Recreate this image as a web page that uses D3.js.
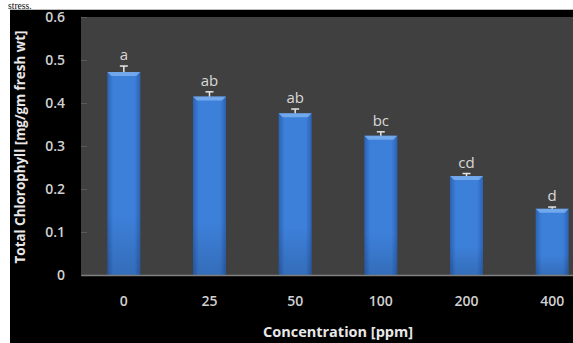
<!DOCTYPE html>
<html>
<head>
<meta charset="utf-8">
<script src="https://cdn.jsdelivr.net/npm/d3@7/dist/d3.min.js"></script>
<style>
  html, body { margin: 0; padding: 0; background: #fff; }
  svg { display: block; }
</style>
</head>
<body>
<script>
// Total chlorophyll by concentration, with SE and significance letters
const categories = ["0", "25", "50", "100", "200", "400"];
const values = [0.472, 0.415, 0.376, 0.324, 0.230, 0.154];
const errors = [0.014, 0.011, 0.010, 0.009, 0.006, 0.004];
const letters = ["a", "ab", "ab", "bc", "cd", "d"];
const yTicks = [0, 0.1, 0.2, 0.3, 0.4, 0.5, 0.6];

const W = 573, H = 343;
const svg = d3.select("body").append("svg").attr("width", W).attr("height", H);

// figure frame
svg.append("rect").attr("x", 10).attr("y", 9).attr("width", W - 10).attr("height", 1)
  .attr("fill", "#bbb");
svg.append("rect").attr("x", 10).attr("y", 10).attr("width", W - 10).attr("height", H - 10)
  .attr("fill", "#000");

// caption fragment above the figure
svg.append("text")
  .attr("x", 8).attr("y", 8.6)
  .attr("font-family", "Liberation Serif, Times New Roman, serif")
  .attr("font-size", 9.6).attr("fill", "#111")
  .text("stress.");

const plot = { left: 81, top: 17, right: 595, bottom: 275 };

const x = d3.scaleBand().domain(categories).range([plot.left, plot.right])
  .paddingInner(0.615).paddingOuter(0.3075);
const y = d3.scaleLinear().domain([0, 0.6]).range([plot.bottom, plot.top]);

const defs = svg.append("defs");
const gh = defs.append("linearGradient").attr("id", "barH").attr("x1", 0).attr("x2", 1).attr("y1", 0).attr("y2", 0);
gh.append("stop").attr("offset", "0%").attr("stop-color", "#2c62b4");
gh.append("stop").attr("offset", "18%").attr("stop-color", "#3d80da");
gh.append("stop").attr("offset", "82%").attr("stop-color", "#3d80da");
gh.append("stop").attr("offset", "100%").attr("stop-color", "#2c62b4");
const gv = defs.append("linearGradient").attr("id", "barShade").attr("x1", 0).attr("x2", 0).attr("y1", 0).attr("y2", 1);
gv.append("stop").attr("offset", "0%").attr("stop-color", "#000").attr("stop-opacity", 0);
gv.append("stop").attr("offset", "70%").attr("stop-color", "#000").attr("stop-opacity", 0);
gv.append("stop").attr("offset", "100%").attr("stop-color", "#000").attr("stop-opacity", 0.15);

// plot background
svg.append("rect")
  .attr("x", plot.left).attr("y", plot.top)
  .attr("width", W - plot.left).attr("height", plot.bottom - plot.top)
  .attr("fill", "#404040");

const font = "Open Sans, sans-serif";

// y axis ticks (inside plot) and labels
const yAxis = d3.axisLeft(y).tickValues(yTicks).tickSize(-6).tickPadding(16)
  .tickFormat(d => d === 0 ? "0" : d3.format(".1f")(d));
const ya = svg.append("g").attr("transform", `translate(${plot.left},0)`).call(yAxis);
ya.select(".domain").remove();
ya.selectAll(".tick line").attr("stroke", "#5a5a5a");
ya.selectAll(".tick text")
  .attr("fill", "#d0d0d0").attr("font-size", 14).attr("font-weight", 600)
  .attr("font-family", font);

// bars
const bars = svg.append("g");
bars.selectAll("rect.bar").data(values).join("rect")
  .attr("class", "bar")
  .attr("x", (d, i) => x(categories[i]))
  .attr("y", d => y(d))
  .attr("width", x.bandwidth())
  .attr("height", d => y(0) - y(d))
  .attr("fill", "url(#barH)");
bars.selectAll("rect.shade").data(values).join("rect")
  .attr("class", "shade")
  .attr("x", (d, i) => x(categories[i]))
  .attr("y", d => y(d))
  .attr("width", x.bandwidth())
  .attr("height", d => y(0) - y(d))
  .attr("fill", "url(#barShade)");
// top bevel highlight
bars.selectAll("path.bevel").data(values).join("path")
  .attr("class", "bevel")
  .attr("d", (d, i) => {
    const x0 = x(categories[i]), x1 = x0 + x.bandwidth(), t = y(d);
    return `M${x0},${t} L${x1},${t} L${x1 - 4},${t + 4} L${x0 + 4},${t + 4} Z`;
  })
  .attr("fill", "#7fb2f0").attr("opacity", 0.8);

// error bars
const eb = svg.append("g").attr("stroke", "#e6e6e6").attr("stroke-width", 1.5);
values.forEach((v, i) => {
  const cx = x(categories[i]) + x.bandwidth() / 2;
  eb.append("line").attr("x1", cx).attr("x2", cx).attr("y1", y(v)).attr("y2", y(v + errors[i]));
  eb.append("line").attr("x1", cx - 4).attr("x2", cx + 4)
    .attr("y1", y(v + errors[i])).attr("y2", y(v + errors[i]));
});

// significance letters
svg.append("g").selectAll("text").data(values).join("text")
  .attr("x", (d, i) => x(categories[i]) + x.bandwidth() / 2)
  .attr("y", (d, i) => y(d + errors[i]) - 6)
  .attr("text-anchor", "middle")
  .attr("fill", "#d8d8d8").attr("font-size", 15)
  .attr("font-family", font)
  .text((d, i) => letters[i]);

// x axis
const xAxis = d3.axisBottom(x).tickSize(0).tickPadding(21);
const xa = svg.append("g").attr("transform", `translate(0,${plot.bottom})`).call(xAxis);
xa.select(".domain").attr("stroke", "#808080").attr("stroke-width", 1.5);
xa.selectAll(".tick text")
  .attr("fill", "#d0d0d0").attr("font-size", 14).attr("font-weight", 600)
  .attr("font-family", font);

// axis titles
svg.append("text")
  .attr("x", 338).attr("y", 337)
  .attr("text-anchor", "middle")
  .attr("fill", "#e8e8e8").attr("font-size", 14.5).attr("font-weight", "bold")
  .attr("font-family", font)
  .text("Concentration [ppm]");
svg.append("text")
  .attr("transform", "translate(25,147) rotate(-90)")
  .attr("text-anchor", "middle")
  .attr("fill", "#e8e8e8").attr("font-size", 13.4).attr("font-weight", "bold")
  .attr("font-family", font)
  .text("Total Chlorophyll [mg/gm fresh wt]");
</script>
</body>
</html>
